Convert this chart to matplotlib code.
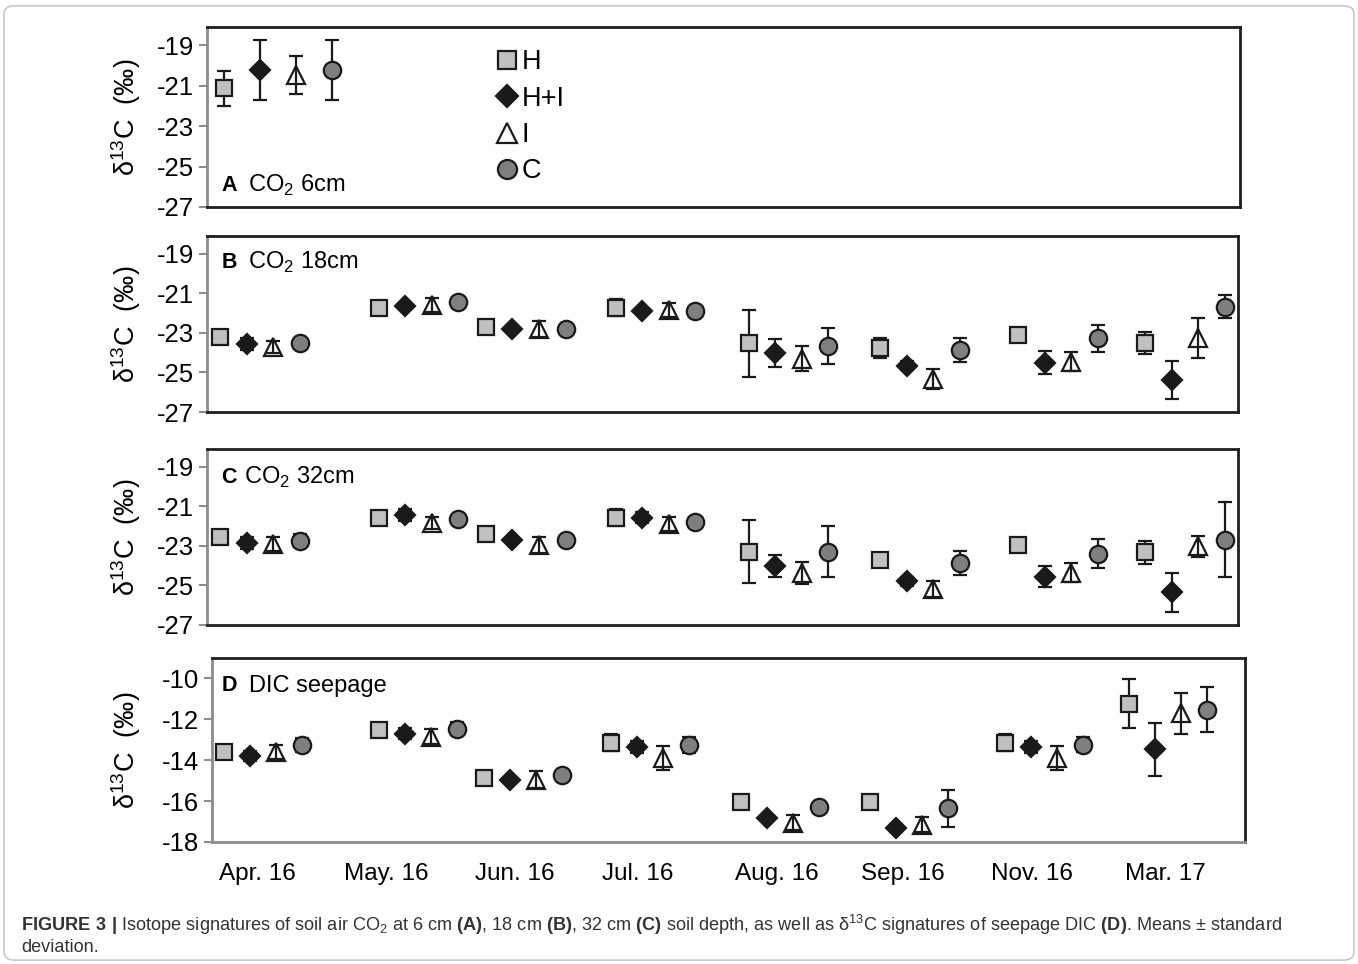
import numpy as np
import matplotlib.pyplot as plt
from matplotlib import font_manager
from matplotlib.lines import Line2D
from matplotlib.patches import FancyBboxPatch

# month groups (x in panel-D pixel-like units), offsets of the 4 treatments in a group
months = ['Apr. 16', 'May. 16', 'Jun. 16', 'Jul. 16', 'Aug. 16', 'Sep. 16', 'Nov. 16', 'Mar. 17']
label_x = [45, 174, 303, 426, 565, 691, 820, 953]
group_x = [51, 206, 311, 438, 568, 697, 832, 956]
offsets = [-39, -13, 13, 39]
treat = ['H', 'H+I', 'I', 'C']

# panel A: CO2 6cm (only April)
A_mean = [-21.14, -20.23, -20.48, -20.23]
A_sd = [0.87, 1.47, 0.93, 1.47]

# panel B: CO2 18cm
B_H = [-23.2, -21.75, -22.68, -21.72, -23.52, -23.78, -23.1, -23.52]
B_H_sd = [0.15, 0.1, 0.1, 0.45, 1.7, 0.5, 0.1, 0.55]
B_HI = [-23.56, -21.63, -22.78, -21.9, -24.0, -24.65, -24.5, -25.38]
B_HI_sd = [0.3, 0.1, 0.15, 0.1, 0.7, 0.25, 0.6, 0.97]
B_I = [-23.7, -21.6, -22.8, -21.85, -24.3, -25.35, -24.45, -23.27]
B_I_sd = [0.3, 0.35, 0.4, 0.35, 0.65, 0.5, 0.5, 1.0]
B_C = [-23.5, -21.46, -22.8, -21.9, -23.66, -23.86, -23.27, -21.67]
B_C_sd = [0.1, 0.1, 0.1, 0.1, 0.93, 0.6, 0.68, 0.6]

# panel C: CO2 32cm
C_H = [-22.53, -21.6, -22.4, -21.57, -23.29, -23.7, -22.95, -23.32]
C_H_sd = [0.1, 0.1, 0.1, 0.45, 1.6, 0.1, 0.1, 0.58]
C_HI = [-22.86, -21.43, -22.7, -21.57, -24.0, -24.8, -24.55, -25.35]
C_HI_sd = [0.3, 0.3, 0.1, 0.3, 0.55, 0.25, 0.55, 1.0]
C_I = [-22.9, -21.85, -22.95, -21.89, -24.38, -25.2, -24.35, -23.03]
C_I_sd = [0.35, 0.3, 0.4, 0.35, 0.57, 0.4, 0.47, 0.55]
C_C = [-22.73, -21.63, -22.7, -21.8, -23.29, -23.87, -23.39, -22.7]
C_C_sd = [0.35, 0.1, 0.1, 0.1, 1.3, 0.6, 0.73, 1.9]

# panel D: DIC seepage
D_H = [-13.59, -12.54, -14.89, -13.14, -16.03, -16.03, -13.14, -11.24]
D_H_sd = [0.1, 0.1, 0.1, 0.4, 0.3, 0.35, 0.4, 1.19]
D_HI = [-13.79, -12.7, -14.97, -13.35, -16.84, -17.3, -13.35, -13.46]
D_HI_sd = [0.25, 0.25, 0.1, 0.3, 0.1, 0.2, 0.28, 1.3]
D_I = [-13.6, -12.85, -14.95, -13.89, -17.05, -17.15, -13.89, -11.7]
D_I_sd = [0.35, 0.35, 0.4, 0.6, 0.35, 0.35, 0.6, 1.0]
D_C = [-13.27, -12.46, -14.73, -13.27, -16.27, -16.36, -13.24, -11.54]
D_C_sd = [0.33, 0.33, 0.1, 0.4, 0.1, 0.9, 0.35, 1.1]

names = {f.name for f in font_manager.fontManager.ttflist}
narrow = 'Liberation Sans Narrow' if 'Liberation Sans Narrow' in names else 'Liberation Sans'

plt.rcParams['font.family'] = ['Liberation Sans', 'DejaVu Sans']
plt.rcParams['axes.unicode_minus'] = False
plt.rcParams['mathtext.fontset'] = 'custom'
plt.rcParams['mathtext.rm'] = 'Liberation Sans'
plt.rcParams['mathtext.bf'] = narrow + ':bold'

styles = [dict(marker='s', ms=12, mfc='#c0c0c0', mec='#1a1a1a'),
          dict(marker='D', ms=10, mfc='#1a1a1a', mec='#1a1a1a'),
          dict(marker='^', ms=12.5, mfc='none', mec='#1a1a1a'),
          dict(marker='o', ms=12.5, mfc='#7f7f7f', mec='#1a1a1a')]

fig = plt.figure(figsize=(13.58, 9.64), dpi=100)
axA = fig.add_axes([0.1524, 0.7853, 0.7607, 0.1867])
axB = fig.add_axes([0.1524, 0.5726, 0.7592, 0.1826])
axC = fig.add_axes([0.1524, 0.3517, 0.7592, 0.1826])
axD = fig.add_axes([0.1561, 0.1266, 0.7607, 0.1909])

def style_ax(ax, ylim, ticks, lab_x):
    ax.set_ylim(*ylim)
    ax.set_yticks(ticks)
    ax.set_yticklabels([str(t) for t in ticks])
    ax.tick_params(axis='y', length=6, width=1.5, color='#8c8c8c', labelsize=18.5, pad=3)
    ax.tick_params(axis='x', length=0)
    for s in ['top', 'right', 'bottom']:
        ax.spines[s].set_color('#1f1f1f')
        ax.spines[s].set_linewidth(2)
    ax.spines['left'].set_color('#8c8c8c')
    ax.spines['left'].set_linewidth(2)
    ax.set_ylabel('δ$^{13}$C  (‰)', fontsize=19.5)
    ax.yaxis.set_label_coords(lab_x, 0.5)

def draw(ax, series, sds):
    for j in range(4):
        xs = [g + offsets[j] for g in group_x]
        ax.errorbar(xs, series[j], yerr=sds[j], ls='none', ecolor='#1a1a1a',
                    elinewidth=1.6, capsize=5, capthick=1.6, mew=1.6, **styles[j])

# panel A
for j in range(4):
    axA.errorbar([group_x[0] + offsets[j]], [A_mean[j]], yerr=[A_sd[j]], ls='none',
                 ecolor='#1a1a1a', elinewidth=1.6, capsize=5, capthick=1.6, mew=1.6, **styles[j])
axA.set_xlim(0, 746)
style_ax(axA, (-27, -18.1), [-27, -25, -23, -21, -19], -0.062)
axA.set_xticks([])
axA.text(0.014, 0.12, 'A', transform=axA.transAxes, fontsize=15.5, fontweight='bold', va='center')
axA.text(0.04, 0.12, 'CO$_2$ 6cm', transform=axA.transAxes, fontsize=17, va='center')
handles = [Line2D([], [], ls='none', mew=1.6, **st) for st in styles]
axA.legend(handles, treat, loc='upper left', bbox_to_anchor=(0.281, 0.875), frameon=False,
           fontsize=19.5, handlelength=0.75, handletextpad=0.15, labelspacing=0.38,
           borderaxespad=0, borderpad=0, markerscale=1.1)

# panel B
draw(axB, [B_H, B_HI, B_I, B_C], [B_H_sd, B_HI_sd, B_I_sd, B_C_sd])
axB.set_xlim(-1, 1008)
style_ax(axB, (-27, -18.1), [-27, -25, -23, -21, -19], -0.062)
axB.set_xticks([])
axB.text(0.014, 0.85, 'B', transform=axB.transAxes, fontsize=15.5, fontweight='bold', va='center')
axB.text(0.04, 0.85, 'CO$_2$ 18cm', transform=axB.transAxes, fontsize=17, va='center')

# panel C
draw(axC, [C_H, C_HI, C_I, C_C], [C_H_sd, C_HI_sd, C_I_sd, C_C_sd])
axC.set_xlim(-1, 1008)
style_ax(axC, (-27, -18.1), [-27, -25, -23, -21, -19], -0.062)
axC.set_xticks([])
axC.text(0.014, 0.84, 'C', transform=axC.transAxes, fontsize=15.5, fontweight='bold', va='center')
axC.text(0.036, 0.84, 'CO$_2$ 32cm', transform=axC.transAxes, fontsize=17, va='center')

# panel D
draw(axD, [D_H, D_HI, D_I, D_C], [D_H_sd, D_HI_sd, D_I_sd, D_C_sd])
axD.set_xlim(0, 1033)
style_ax(axD, (-18, -9), [-18, -16, -14, -12, -10], -0.067)
axD.spines['bottom'].set_color('#8c8c8c')
axD.set_xticks(label_x)
axD.set_xticklabels(months, fontsize=17.5)
axD.tick_params(axis='x', pad=15)
axD.text(0.009, 0.85, 'D', transform=axD.transAxes, fontsize=15.5, fontweight='bold', va='center')
axD.text(0.036, 0.85, 'DIC seepage', transform=axD.transAxes, fontsize=17, va='center')

cap1 = ('$\\mathbf{FIGURE\\ 3\\ |}$ Isotope signatures of soil air CO$_2$ at 6 cm $\\mathbf{(A)}$, '
        '18 cm $\\mathbf{(B)}$, 32 cm $\\mathbf{(C)}$ soil depth, as well as δ$^{13}$C signatures '
        'of seepage DIC $\\mathbf{(D)}$. Means ± standard')
fig.text(0.0155, 1 - 925 / 964, cap1, fontsize=13.1, family=narrow, color='#333333', va='center')
fig.text(0.0155, 1 - 948 / 964, 'deviation.', fontsize=13.1, family=narrow, color='#333333', va='center')

fig.patches.append(FancyBboxPatch((0.003, 0.004), 0.994, 0.99, boxstyle='round,pad=0,rounding_size=0.008',
                                  transform=fig.transFigure, fill=False, ec='#c8c8c8', lw=1.2))

fig.savefig('out.png', dpi=100)
